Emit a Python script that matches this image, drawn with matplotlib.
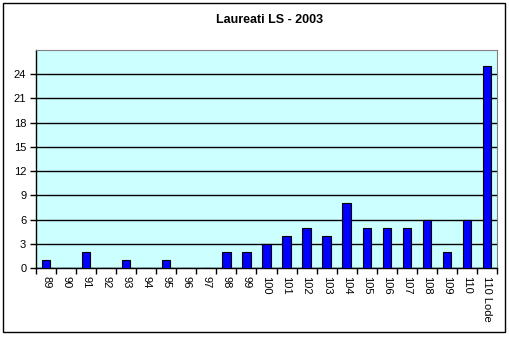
import matplotlib.pyplot as plt
from matplotlib.patches import Rectangle

# categories and counts
voti = ['89', '90', '91', '92', '93', '94', '95', '96', '97', '98', '99',
        '100', '101', '102', '103', '104', '105', '106', '107', '108', '109',
        '110', '110 Lode']
laureati = [1, 0, 2, 0, 1, 0, 1, 0, 0, 2, 2,
            3, 4, 5, 4, 8, 5, 5, 5, 6, 2,
            6, 25]
yticks = [0, 3, 6, 9, 12, 15, 18, 21, 24]

plt.rcParams['font.family'] = ['Liberation Sans', 'DejaVu Sans']

W, H = 510, 338
fig = plt.figure(figsize=(W / 100, H / 100), dpi=100)
fig.patch.set_facecolor('white')

# outer frame
fig.patches.append(Rectangle((3 / W, 1 - 332 / H), 502 / W, 329 / H,
                             transform=fig.transFigure, fill=False,
                             edgecolor='black', linewidth=1))

left, right, top, bottom = 36, 497, 50, 268
ax = fig.add_axes([left / W, 1 - bottom / H, (right - left) / W, (bottom - top) / H])
ax.set_facecolor('#ccffff')

x = list(range(len(voti)))
ax.bar(x, laureati, width=0.42, color='#0000ff', edgecolor='black', linewidth=0.8, zorder=3)

ax.set_xlim(-0.5, len(voti) - 0.5)
ax.set_ylim(0, 27)
ax.set_yticks(yticks)
ax.set_yticklabels([str(v) for v in yticks], fontsize=8)
ax.yaxis.grid(True, color='black', linewidth=1)
ax.set_axisbelow(True)

ax.set_xticks([i + 0.5 for i in x[:-1]] + [-0.5, len(voti) - 0.5])
ax.set_xticklabels([])
ax.set_xticks(x, minor=True)
ax.set_xticklabels(voti, minor=True, rotation=-90, fontsize=8)
ax.tick_params(axis='x', which='minor', length=0, pad=6)
ax.tick_params(axis='x', which='major', length=4, direction='out', width=1)
ax.tick_params(axis='y', length=4, direction='out', width=1, pad=3)

for s in ['top', 'right']:
    ax.spines[s].set_color('#808080')
for s in ['left', 'bottom']:
    ax.spines[s].set_color('black')
    ax.spines[s].set_linewidth(1)

fig.text(270 / W, 1 - 20 / H, 'Laureati LS - 2003', ha='center', va='center',
         fontsize=9, fontweight='bold')

fig.savefig('out.png', dpi=100)
